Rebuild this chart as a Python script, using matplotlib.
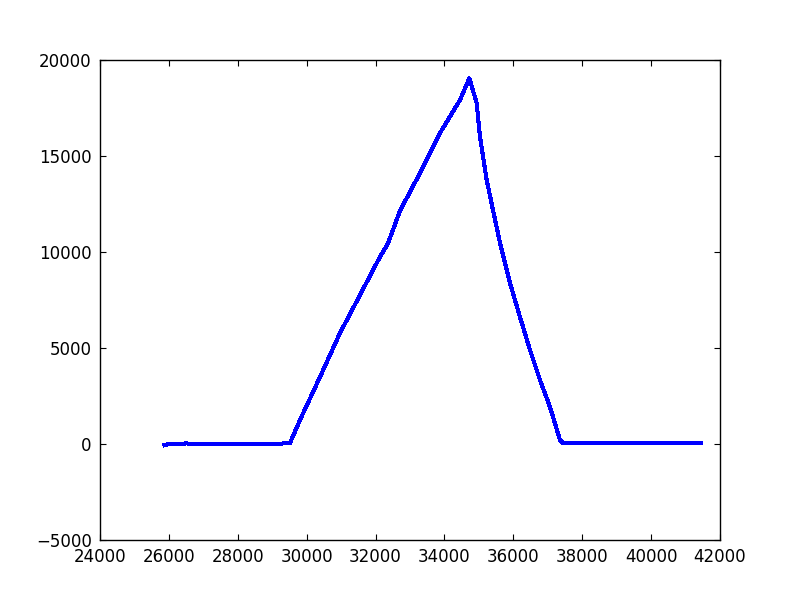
import numpy as np
import matplotlib
matplotlib.use('Agg')
import matplotlib.pyplot as plt

# values
x = [25870, 25950, 26030, 26450, 26500, 26560, 27500, 28500, 29226, 29400, 29516,
     29806, 30387, 30968, 31548, 32129, 32361, 32710, 33290, 33871, 34452, 34722,
     34936, 35032, 35226, 35409, 35613, 35903, 36193, 36484, 36774, 37064, 37355,
     37442, 38500, 39500, 40500, 41450]
y = [-60, -20, 0, 10, 60, 10, 0, 0, 0, 60, 52,
     1250, 3490, 5781, 7760, 9750, 10450, 12150, 14115, 16198, 17917, 19047,
     17760, 15990, 13750, 12188, 10469, 8385, 6615, 4896, 3333, 1927, 208,
     52, 40, 40, 40, 30]

plt.rcParams['font.family'] = 'DejaVu Sans'
fig = plt.figure(figsize=(8, 6), dpi=100)
ax = fig.add_subplot(111)
fig.subplots_adjust(left=0.125, right=0.9, bottom=0.1, top=0.9)

ax.plot(x, y, color='#0000ff', linewidth=2.2, antialiased=False)

ax.set_xlim(24000, 42000)
ax.set_ylim(-5000, 20000)
ax.set_xticks(np.arange(24000, 42001, 2000))
ax.set_yticks(np.arange(-5000, 20001, 5000))
ax.tick_params(direction='in', top=True, right=True, length=4, labelsize=12, pad=6)
for s in ax.spines.values():
    s.set_linewidth(1)

fig.savefig('out.png', dpi=100)
